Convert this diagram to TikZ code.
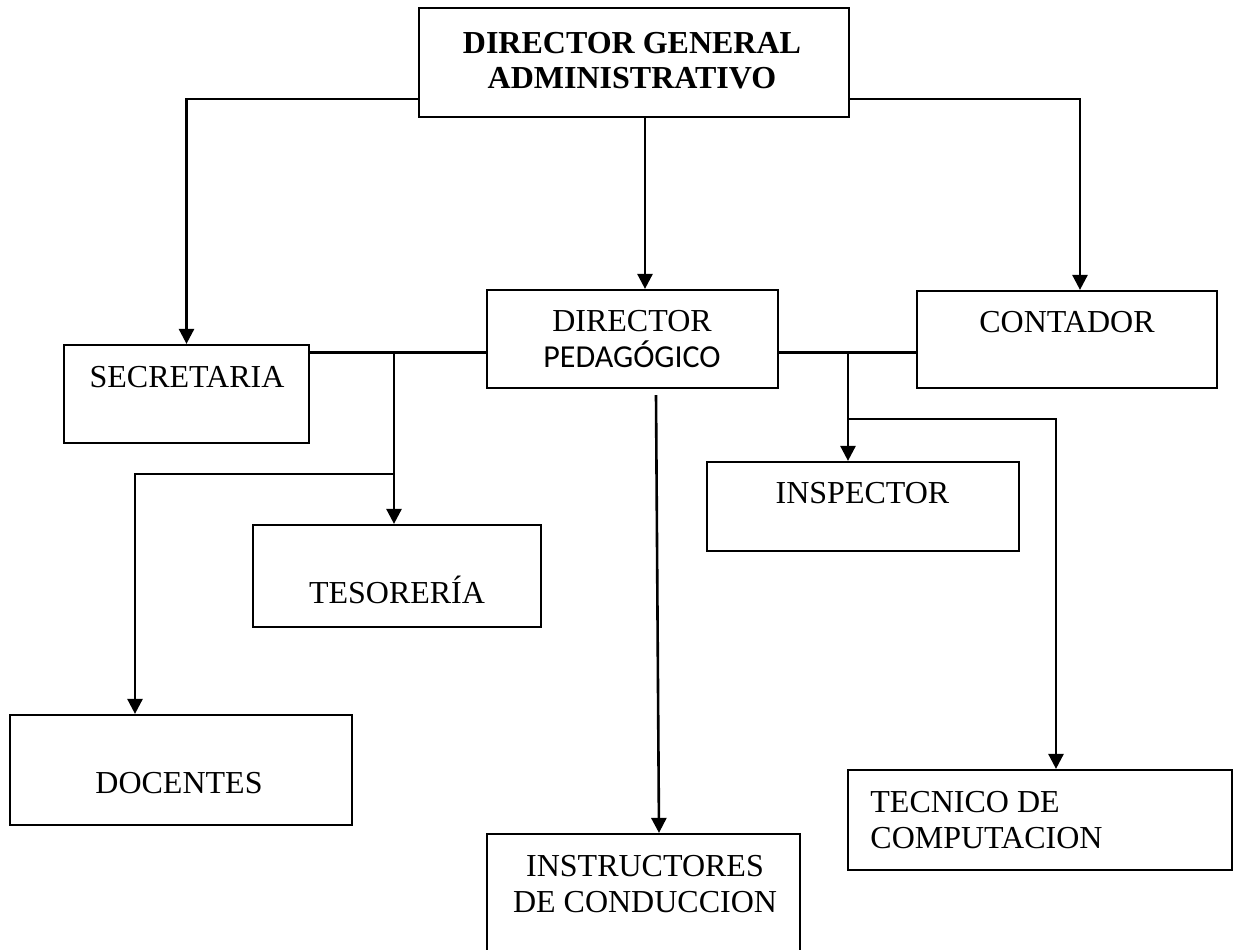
\documentclass[tikz,border=0pt]{standalone}
\usepackage{fontspec}
\setmainfont{Liberation Serif}
\newfontfamily\calibrina{Carlito}
\usetikzlibrary{arrows.meta}

\begin{document}
\begin{tikzpicture}[x=0.5pt,y=-0.5pt,
        caja/.style={draw,line width=1.1pt,inner sep=0pt},
        txt/.style={font=\fontsize{16}{18}\selectfont,inner sep=0pt,anchor=base,align=center},
        flecha/.style={-{Triangle[length=7.5pt,width=7.5pt]},line width=1.3pt},
        linea/.style={line width=1.3pt}]
        % Frame
        \useasboundingbox (0,0) rectangle (1237,949);
        \clip (0,0) rectangle (1237,949);

        % Boxes
        \node[caja,minimum width=215pt,minimum height=54.5pt] (dg) at (634,62.5) {};
        \node[caja,minimum width=122.5pt,minimum height=49pt] (sec) at (186.5,394) {};
        \node[caja,minimum width=145.5pt,minimum height=49pt] (dp) at (632.5,339) {};
        \node[caja,minimum width=150pt,minimum height=48.5pt] (con) at (1067,339.5) {};
        \node[caja,minimum width=144pt,minimum height=51pt] (tes) at (397,576) {};
        \node[caja,minimum width=156pt,minimum height=44.5pt] (ins) at (863,506.5) {};
        \node[caja,minimum width=171pt,minimum height=55pt] (doc) at (181,770) {};
        \node[caja,minimum width=156.5pt,minimum height=66pt] (ist) at (643.5,900) {};
        \node[caja,minimum width=192pt,minimum height=50pt] (tec) at (1040,820) {};

        % Labels (multi-line ones sit on their last line)
        \node[txt,font=\bfseries\fontsize{16}{17.5}\selectfont] (dgT) at (632,88) {DIRECTOR GENERAL\\ADMINISTRATIVO};
        \node[txt] (secT) at (187,387) {SECRETARIA};
        \node[txt] (dpT) at (632,367) {DIRECTOR\\{\calibrina PEDAGÓGICO}};
        \node[txt] (conT) at (1067,332) {CONTADOR};
        \node[txt] (insT) at (862.5,503) {INSPECTOR};
        \node[txt] (tesT) at (397,603) {TESORERÍA};
        \node[txt] (docT) at (179,793) {DOCENTES};
        \node[txt] (istT) at (645,912) {INSTRUCTORES\\DE CONDUCCION};
        \node[txt,anchor=base west,align=left] (tecT) at (870,848) {TECNICO DE\\COMPUTACION};

        % Branch points
        \coordinate (j1) at (394,352.5);
        \coordinate (j2) at (394,474);
        \coordinate (j3) at (848,352.5);
        \coordinate (j4) at (848,419);

        % From the director general
        \draw[flecha] ([yshift=-18.25pt]dg.west) -| (sec);
        \draw[flecha] ([xshift=5.5pt]dg.south) -- ([xshift=5.5pt]dg.south |- dp.north);
        \draw[flecha] ([yshift=-18.25pt]dg.east) -| ([xshift=6.5pt]con.north);

        % Left side
        \draw[linea] (sec.east |- j1) -- (dp.west |- j1);
        \draw[flecha] (j1) -- (j1 |- tes.north);
        \draw[flecha] (j2) -| ([xshift=-23pt]doc.north);

        % Right side
        \draw[linea] (dp.east |- j3) -- (con.west |- j3);
        \draw[flecha] (j3) -- (j3 |- ins.north);
        \draw[flecha] (j4) -| ([xshift=8pt]tec.north);

        % Down the middle
        \draw[flecha] ([xshift=11.75pt,yshift=-3pt]dp.south) -- ([xshift=7.75pt]ist.north);
    \end{tikzpicture}
\end{document}
